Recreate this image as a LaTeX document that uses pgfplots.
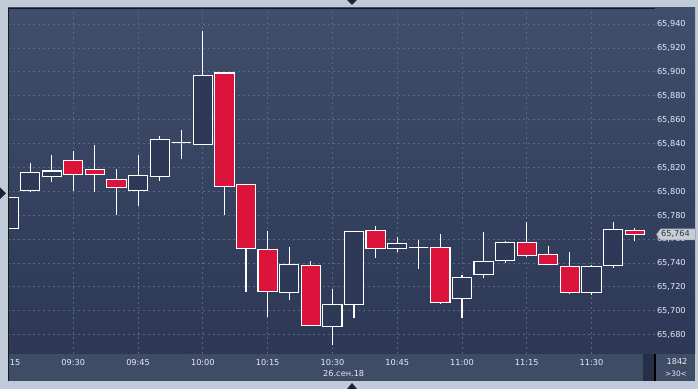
\documentclass[border=0pt]{standalone}
\usepackage{pgfplots}
\pgfplotsset{compat=1.18}
\usepackage{fontspec}
\setmainfont{DejaVu Sans}
\definecolor{outer}{RGB}{192,202,216}
\definecolor{bgtop}{RGB}{63,78,107}
\definecolor{bgbot}{RGB}{44,56,85}
\definecolor{bandc}{RGB}{62,76,102}
\definecolor{darkc}{RGB}{37,48,72}
\definecolor{gridc}{RGB}{88,103,132}
\definecolor{labc}{RGB}{228,235,246}
\definecolor{upfill}{RGB}{45,57,86}
\definecolor{dnfill}{RGB}{220,20,60}
\definecolor{pricebg}{RGB}{200,204,212}
\definecolor{pricebd}{RGB}{150,156,168}
\definecolor{pricetx}{RGB}{40,50,72}
\definecolor{tric}{RGB}{28,35,51}
% \candle{time}{low}{body bottom}{body top}{high}{fill}
\newcommand{\candle}[6]{%
  \pgfmathsetmacro\xa{#1-2.225}%
  \pgfmathsetmacro\xb{#1+2.225}%
  \addplot[draw=white, line width=1.1bp] coordinates {(#1,#2) (#1,#5)};
  \addplot[draw=white, line width=1.1bp, fill=#6] coordinates {(\xa,#3) (\xb,#3) (\xb,#4) (\xa,#4)} -- cycle;
}
\begin{document}
\begin{tikzpicture}
\fill[outer] (0,0) rectangle (698bp,389bp);
\shade[top color=bgtop, bottom color=bgbot] (8bp,35bp) rectangle (695bp,381bp);
\fill[bandc] (8bp,8bp) rectangle (695bp,35bp);
\fill[darkc] (643bp,8bp) rectangle (655bp,35bp);
\draw[black, line width=1.2bp] (655bp,8bp) -- (655bp,35bp);
\begin{axis}[
  at={(8bp,35bp)}, anchor=south west,
  width=647bp, height=346bp, scale only axis,
  xmin=-0.12, xmax=149.7, ymin=65663.8, ymax=65953.4,
  axis line style={draw=none},
  major tick length=0pt,
  scaled y ticks=false, scaled x ticks=false,
  xtick={0,15,...,135},
  xticklabels={\phantom{09:}15,09:30,09:45,10:00,10:15,10:30,10:45,11:00,11:15,11:30},
  ytick={65680,65700,...,65940},
  yticklabel pos=right,
  grid=major,
  major grid style={gridc, line width=0.8bp, dash pattern=on 2bp off 3bp},
  ticklabel style={font=\fontsize{8.2bp}{10bp}\selectfont, text=labc, inner sep=0pt},
  xticklabel style={anchor=base, yshift=-11.7bp},
  yticklabel style={anchor=base west, xshift=1.8bp, yshift=-2.9bp},
  /pgf/number format/.cd, fixed, precision=0, 1000 sep={,}, assume math mode=true,
]
\candle{0}{65768}{65769}{65795}{65797}{upfill}
\candle{5}{65799}{65801}{65816}{65824}{upfill}
\candle{10}{65808}{65812}{65817}{65830}{upfill}
\candle{15}{65800}{65814}{65826}{65834}{dnfill}
\candle{20}{65799}{65814}{65818}{65839}{dnfill}
\candle{25}{65780}{65803}{65810}{65819}{dnfill}
\candle{30}{65788}{65801}{65813}{65830}{upfill}
\candle{35}{65809}{65812}{65843}{65846}{upfill}
\candle{40}{65827}{65841}{65841}{65851}{upfill}
\candle{45}{65839}{65839}{65897}{65934}{upfill}
\candle{50}{65780}{65804}{65899}{65900}{dnfill}
\candle{55}{65716}{65752}{65806}{65806}{dnfill}
\candle{60}{65695}{65716}{65751}{65767}{dnfill}
\candle{65}{65709}{65715}{65739}{65753}{upfill}
\candle{70}{65687}{65688}{65738}{65742}{dnfill}
\candle{75}{65671}{65687}{65705}{65718}{upfill}
\candle{80}{65694}{65705}{65766}{65767}{upfill}
\candle{85}{65744}{65752}{65767}{65771}{dnfill}
\candle{90}{65749}{65752}{65756}{65762}{upfill}
\candle{95}{65735}{65753}{65753}{65759}{upfill}
\candle{100}{65706}{65707}{65753}{65764}{dnfill}
\candle{105}{65694}{65710}{65728}{65730}{upfill}
\candle{110}{65727}{65730}{65741}{65766}{upfill}
\candle{115}{65740}{65742}{65757}{65758}{upfill}
\candle{120}{65745}{65746}{65757}{65774}{dnfill}
\candle{125}{65738}{65739}{65747}{65754}{dnfill}
\candle{130}{65714}{65715}{65737}{65749}{dnfill}
\candle{135}{65713}{65715}{65737}{65738}{upfill}
\candle{140}{65736}{65738}{65768}{65774}{upfill}
\candle{145}{65758}{65764}{65767}{65769}{dnfill}
\end{axis}
\draw[black!90, line width=1bp] (8.5bp,8bp) -- (8.5bp,380.5bp) -- (655bp,380.5bp);
% current price label
\filldraw[fill=pricebg, draw=pricebd, line width=0.5bp] (656.5bp,154.5bp) -- (660.5bp,160bp) -- (695bp,160bp) -- (695bp,149bp) -- (660.5bp,149bp) -- cycle;
\node[anchor=base west, inner sep=0pt, font=\fontsize{8.2bp}{10bp}\selectfont, text=pricetx] at (661bp,152bp) {65,764};
% date and counter
\node[anchor=base west, inner sep=0pt, font=\fontsize{8.2bp}{10bp}\selectfont, text=labc] at (323bp,13bp) {26.сен.18};
\node[anchor=base, inner sep=0pt, font=\fontsize{8.2bp}{10bp}\selectfont, text=labc] at (677bp,24.3bp) {1842};
\draw[black!70, line width=0.8bp] (665bp,21.3bp) -- (688bp,21.3bp);
\node[anchor=base, inner sep=0pt, font=\fontsize{7.4bp}{9bp}\selectfont, text=labc] at (676bp,12.3bp) {>30<};
% small markers
\fill[tric] (347bp,389bp) -- (357bp,389bp) -- (352bp,384bp) -- cycle;
\fill[tric] (0bp,201.5bp) -- (0bp,190bp) -- (6bp,195.7bp) -- cycle;
\fill[tric] (347bp,0bp) -- (357bp,0bp) -- (352bp,6bp) -- cycle;
\pgfresetboundingbox
\useasboundingbox (0,0) rectangle (698bp,389bp);
\end{tikzpicture}
\end{document}
